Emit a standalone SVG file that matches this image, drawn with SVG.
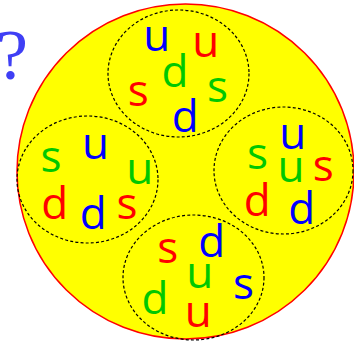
<svg xmlns="http://www.w3.org/2000/svg" width="354" height="345" viewBox="0 0 354 345">
<style>
.q{font-family:"Liberation Serif","Times New Roman",serif;font-size:72px;fill:#3f3ff5}
.t{font-family:"Open Sans","Noto Sans",sans-serif;font-size:44px;text-anchor:middle}
.b{fill:#0000ff}.r{fill:#ff0000}.g{fill:#00c800}
.bag{fill:none;stroke:#000;stroke-width:1.2;stroke-dasharray:3 2.2}
</style>
<ellipse id="outer" cx="185.5" cy="171.5" rx="168.5" ry="167.5" fill="#ffff00" stroke="#ff0000" stroke-width="1.5"/>
<text class="q" x="12" y="79" text-anchor="middle">?</text>
<g id="top">
<ellipse class="bag" cx="178.5" cy="73.5" rx="70.5" ry="63.5"/>
<text class="t b" x="156.7" y="51">u</text>
<text class="t r" x="205.8" y="56.7">u</text>
<text class="t g" x="175" y="86.5">d</text>
<text class="t r" x="138.3" y="105.5">s</text>
<text class="t g" x="217.5" y="102">s</text>
<text class="t b" x="185.3" y="132">d</text>
</g>
<g id="left">
<ellipse class="bag" cx="87.5" cy="179.5" rx="70.5" ry="63.5"/>
<text class="t g" x="51" y="172">s</text>
<text class="t b" x="95.5" y="159.3">u</text>
<text class="t g" x="139.7" y="183.7">u</text>
<text class="t r" x="54.7" y="219">d</text>
<text class="t b" x="93.3" y="228.5">d</text>
<text class="t r" x="127" y="218.5">s</text>
</g>
<g id="right">
<ellipse class="bag" cx="283.5" cy="170.5" rx="69.5" ry="63.5"/>
<text class="t b" x="292.8" y="149">u</text>
<text class="t g" x="257.5" y="169">s</text>
<text class="t g" x="291" y="181.7">u</text>
<text class="t r" x="323.3" y="180.5">s</text>
<text class="t r" x="257.3" y="215.5">d</text>
<text class="t b" x="301.7" y="224">d</text>
</g>
<g id="bottom">
<ellipse class="bag" cx="193.5" cy="277.5" rx="70.5" ry="62.5"/>
<text class="t r" x="167.8" y="263.3">s</text>
<text class="t b" x="211.7" y="257">d</text>
<text class="t g" x="199.7" y="288.3">u</text>
<text class="t b" x="243.5" y="299">s</text>
<text class="t g" x="155" y="313.8">d</text>
<text class="t r" x="198.3" y="326.7">u</text>
</g>
<g id="connectors"/>
</svg>
